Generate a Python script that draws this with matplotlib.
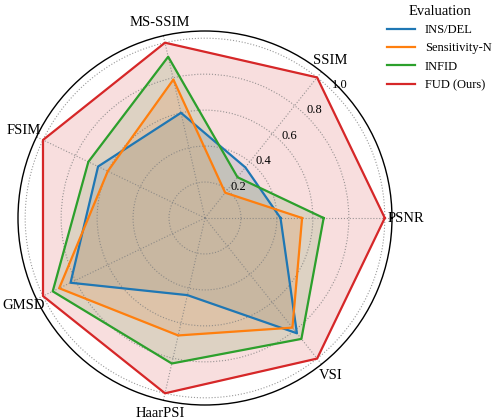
import numpy as np
import matplotlib
matplotlib.use("Agg")
import matplotlib.pyplot as plt

plt.rcParams['font.family'] = ['Liberation Serif', 'DejaVu Serif']

metrics = ['PSNR', 'SSIM', 'MS-SSIM', 'FSIM', 'GMSD', 'HaarPSI', 'VSI']
ins_del = [0.42, 0.36, 0.60, 0.66, 0.83, 0.44, 0.82]
sensitivity_n = [0.54, 0.18, 0.79, 0.60, 0.90, 0.67, 0.78]
infid = [0.66, 0.29, 0.92, 0.72, 0.94, 0.83, 0.86]
fud = [1.0, 1.0, 1.0, 1.0, 1.0, 1.0, 1.0]
methods = ['INS/DEL', 'Sensitivity-N', 'INFID', 'FUD (Ours)']
colors = ['#1f77b4', '#ff7f0e', '#2ca02c', '#d62728']
r_ticks = [0.2, 0.4, 0.6, 0.8, 1.0]

angles = np.linspace(0, 2 * np.pi, len(metrics), endpoint=False)
closed = np.concatenate([angles, angles[:1]])

fig = plt.figure(figsize=(4.93, 4.2), dpi=100)
ax = fig.add_axes([0.0365, 0.0357, 0.7586, 0.8905], projection='polar')

for name, vals, c in zip(methods, [ins_del, sensitivity_n, infid, fud], colors):
    v = np.concatenate([vals, vals[:1]])
    ax.plot(closed, v, color=c, lw=1.6, label=name)
    ax.fill(closed, v, color=c, alpha=0.15)

ax.set_ylim(0, 1.04)
ax.set_thetagrids(np.degrees(angles), metrics, fontsize=10.5)
ax.tick_params(axis='x', pad=-0.5)
ax.set_yticks(r_ticks)
ax.set_yticklabels([f'{t:.1f}' for t in r_ticks], fontsize=9)
ax.set_rlabel_position(45)
ax.grid(color='grey', linestyle=':', linewidth=0.8, alpha=0.8)
ax.spines['polar'].set_color('black')
ax.spines['polar'].set_linewidth(1.0)

fig.legend(title='Evaluation', loc='upper right', bbox_to_anchor=(1.02, 1.015),
           frameon=False, fontsize=9, title_fontsize=10.5, handlelength=2.2)

fig.savefig('out.png', dpi=100)
